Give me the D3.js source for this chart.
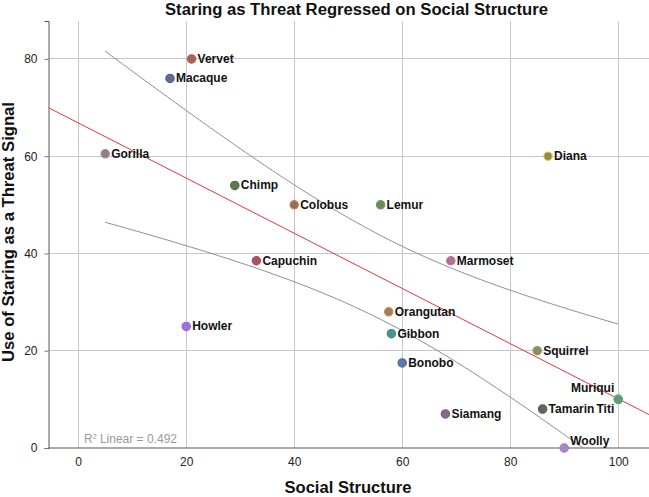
<!DOCTYPE html>
<html><head><meta charset="utf-8">
<script src="https://cdn.jsdelivr.net/npm/d3@7"></script>
<style>body{margin:0;background:#fff}svg{display:block}</style>
</head><body><svg id="c" width="649" height="497"></svg>
<script>
// ---- data ----
const species = ["Vervet","Macaque","Gorilla","Chimp","Colobus","Lemur","Diana","Capuchin","Marmoset","Howler","Orangutan","Gibbon","Bonobo","Squirrel","Titi","Muriqui","Tamarin","Siamang","Woolly"];
const socialStructure = [21,17,5,29,40,56,87,33,69,20,57.5,58,60,85,100,100,86,68,90];
const staringThreat = [80,76,60.5,54,50,50,60,38.5,38.5,25,28,23.5,17.5,20,10,10,8,7,0];
const xTicks = [0,20,40,60,80,100];
const yTicks = [0,20,40,60,80];
const titleText = "Staring as Threat Regressed on Social Structure";
const xTitle = "Social Structure";
const yTitle = "Use of Staring as a Threat Signal";
const rSquaredText = "Linear = 0.492";

// ---- styles ----
const fills = {"Vervet":"#a5625b","Macaque":"#5d6d8c","Gorilla":"#8c7f89","Chimp":"#5c7c4e","Colobus":"#8a7268","Lemur":"#6c8a5e","Diana":"#8d8b55","Capuchin":"#a0566a","Marmoset":"#ac7394","Howler":"#a274d2","Orangutan":"#9c7c62","Gibbon":"#4b9292","Bonobo":"#5a7ba2","Squirrel":"#8b8c62","Muriqui":"#72907a","Titi":"#72907a","Tamarin":"#636363","Siamang":"#83698f","Woolly":"#a48bc4"};
const strokes = {"Vervet":"#c0584c","Macaque":"#4c5d80","Gorilla":"#b08a98","Chimp":"#4a6a3e","Colobus":"#e27a3e","Lemur":"#55a155","Diana":"#e8d043","Capuchin":"#b8405a","Marmoset":"#c86ca0","Howler":"#9a62d8","Orangutan":"#d88a48","Gibbon":"#3a8a8a","Bonobo":"#4a6a98","Squirrel":"#9a9a5a","Muriqui":"#3cc07a","Titi":"#3cc07a","Tamarin":"#555555","Siamang":"#745a84","Woolly":"#9a7ec0"};
const labelPlace = {"Muriqui":{dx:-4,dy:-7,anchor:"end"},"Titi":{dx:-4,dy:14,anchor:"end"},"Woolly":{dx:6,dy:-3,anchor:"start"}};

const L=48.5,R=649,T=21,B=448;
const font='"Liberation Sans", Arial, Helvetica, sans-serif';
const svg=d3.select("#c");
const x=d3.scaleLinear().domain([-5.5,105.7]).range([L,R]);
const y=d3.scaleLinear().domain([0,87.8]).range([B,T]);

// gridlines
svg.append("g").selectAll("line").data(xTicks).join("line")
  .attr("x1",d=>x(d)).attr("x2",d=>x(d)).attr("y1",T).attr("y2",B)
  .attr("stroke","#c8c8c8").attr("stroke-width",1).attr("shape-rendering","crispEdges");
svg.append("g").selectAll("line").data(yTicks.filter(d=>d>0)).join("line")
  .attr("x1",L).attr("x2",R).attr("y1",d=>y(d)).attr("y2",d=>y(d))
  .attr("stroke","#c8c8c8").attr("stroke-width",1).attr("shape-rendering","crispEdges");

// axes
const yAxis=svg.append("g").attr("transform",`translate(${L},0)`)
  .call(d3.axisLeft(y).tickValues(yTicks).tickSize(4).tickPadding(7));
const xAxis=svg.append("g").attr("transform",`translate(0,${B})`)
  .call(d3.axisBottom(x).tickValues(xTicks).tickSize(0).tickPadding(9));
[yAxis,xAxis].forEach(g=>{
  g.select(".domain").attr("stroke","#555");
  g.selectAll(".tick line").attr("stroke","#777");
  g.selectAll("text").attr("font-family",font).attr("font-size","12px").attr("fill","#222");
});
xAxis.select(".domain").attr("d",`M${L},0H${R}`);

// regression + 95% mean CI computed from data
const n=socialStructure.length;
const mx=d3.mean(socialStructure), my=d3.mean(staringThreat);
let sxx=0,sxy=0;
for(let i=0;i<n;i++){sxx+=(socialStructure[i]-mx)**2;sxy+=(socialStructure[i]-mx)*(staringThreat[i]-my);}
const slope=sxy/sxx, icpt=my-slope*mx;
let sse=0;for(let i=0;i<n;i++){sse+=(staringThreat[i]-(icpt+slope*socialStructure[i]))**2;}
const s=Math.sqrt(sse/(n-2)), tcrit=2.1098; // t(0.975, df=17)
svg.append("clipPath").attr("id","pc").append("rect").attr("x",L).attr("y",T).attr("width",R-L).attr("height",B-T);
const xmin=d3.min(socialStructure), xmax=d3.max(socialStructure);
const xs=d3.range(xmin,xmax+0.001,0.5);
const hw=v=>tcrit*s*Math.sqrt(1/n+(v-mx)**2/sxx);
const ln=d3.line().x(d=>x(d[0])).y(d=>y(d[1]));
const g2=svg.append("g").attr("clip-path","url(#pc)");
g2.append("path").attr("d",ln(xs.map(v=>[v,icpt+slope*v+hw(v)]))).attr("fill","none").attr("stroke","#8c8c8c").attr("stroke-width",1);
g2.append("path").attr("d",ln(xs.map(v=>[v,icpt+slope*v-hw(v)]))).attr("fill","none").attr("stroke","#8c8c8c").attr("stroke-width",1);
const xd=x.domain();
g2.append("path").attr("d",ln(xd.map(v=>[v,icpt+slope*v]))).attr("fill","none").attr("stroke","#e0383a").attr("stroke-width",1);

// points
const pts=species.map((sp,i)=>({sp,x:socialStructure[i],y:staringThreat[i]}));
svg.append("g").selectAll("circle").data(pts).join("circle")
  .attr("cx",d=>x(d.x)).attr("cy",d=>y(d.y)).attr("r",4.2)
  .attr("fill",d=>fills[d.sp]).attr("stroke",d=>strokes[d.sp]).attr("stroke-width",1.1);
svg.append("g").selectAll("text").data(pts).join("text")
  .attr("x",d=>x(d.x)+((labelPlace[d.sp]||{}).dx??6))
  .attr("y",d=>y(d.y)+((labelPlace[d.sp]||{}).dy??4))
  .attr("text-anchor",d=>(labelPlace[d.sp]||{}).anchor||"start")
  .attr("font-family",font).attr("font-size","12px").attr("font-weight","bold").attr("fill","#111")
  .text(d=>d.sp);

// R2 note
const r2=svg.append("text").attr("x",84).attr("y",443).attr("font-family",font).attr("font-size","12px").attr("fill","#999");
r2.append("tspan").text("R");
r2.append("tspan").attr("font-size","7px").attr("dy",-4).text("2");
r2.append("tspan").attr("dy",4).text(" "+rSquaredText);

// titles
svg.append("text").attr("x",356.5).attr("y",15).attr("text-anchor","middle")
  .attr("font-family",font).attr("font-size","16px").attr("font-weight","bold").attr("fill","#111")
  .attr("textLength",383).attr("lengthAdjust","spacingAndGlyphs").text(titleText);
svg.append("text").attr("x",348).attr("y",493).attr("text-anchor","middle")
  .attr("font-family",font).attr("font-size","16px").attr("font-weight","bold").attr("fill","#111")
  .attr("textLength",127).attr("lengthAdjust","spacingAndGlyphs").text(xTitle);
svg.append("text").attr("transform","translate(13.5,232) rotate(-90)").attr("text-anchor","middle")
  .attr("font-family",font).attr("font-size","16px").attr("font-weight","bold").attr("fill","#111")
  .attr("textLength",260).attr("lengthAdjust","spacingAndGlyphs").text(yTitle);
</script></body></html>
